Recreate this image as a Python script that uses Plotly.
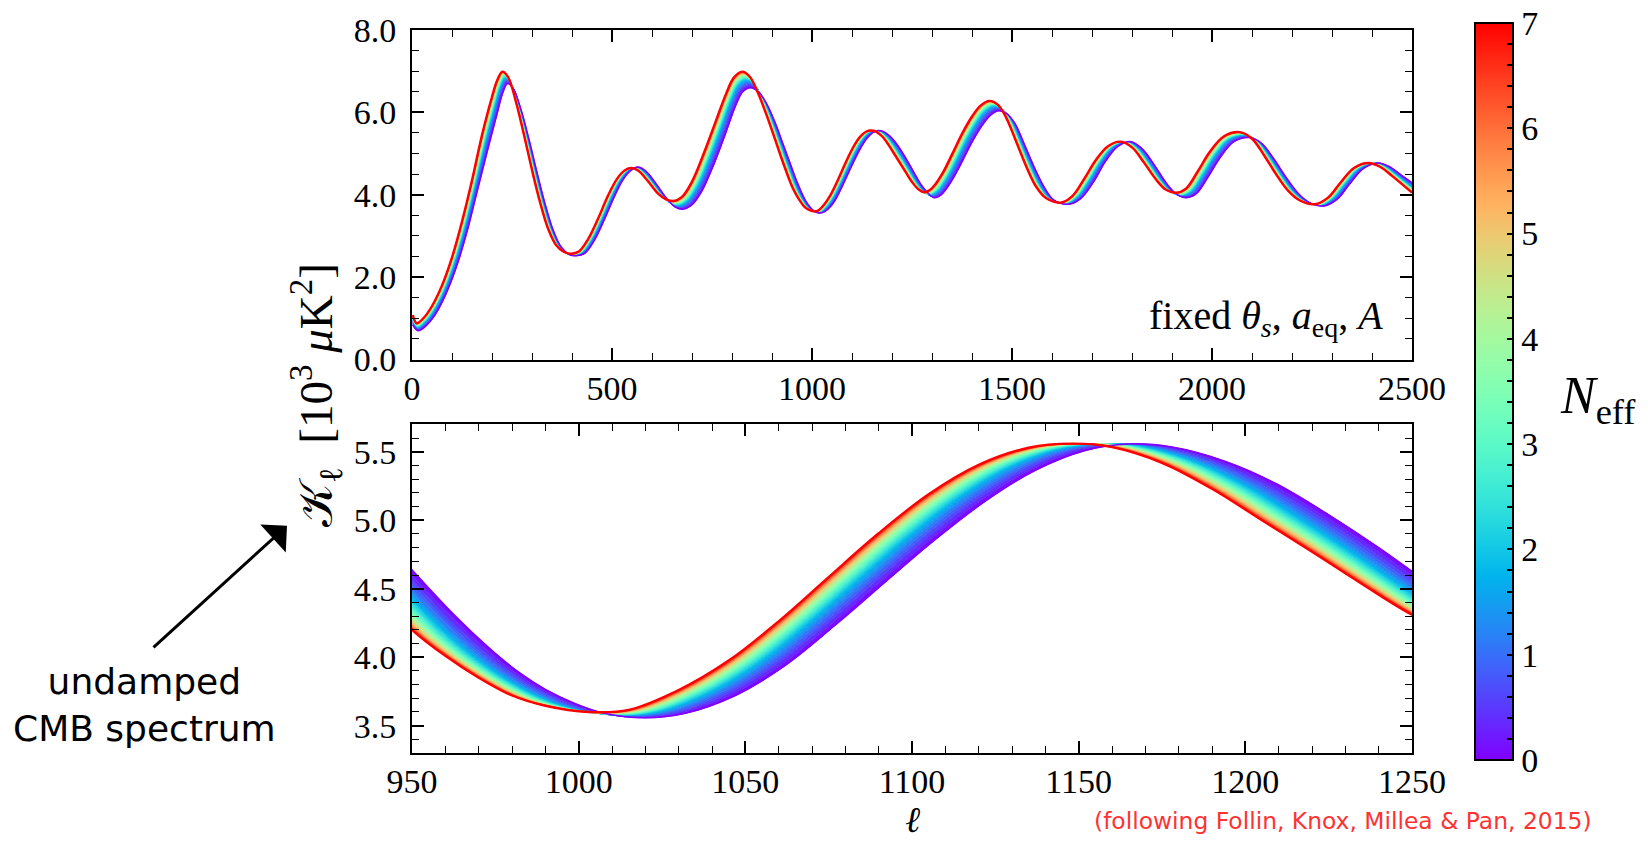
import numpy as np
import plotly.graph_objects as go

# Undamped CMB spectrum K_ell [10^3 muK^2] at fixed theta_s, a_eq, A.
# The N_eff = 0 and N_eff = 7 spectra are sampled at matching oscillation phases.
ell_neff0 = [2, 15, 35, 56, 83, 110, 136, 162, 188, 213, 226, 239, 253, 272, 292, 312, 332,
             353, 373, 393, 411, 432, 455, 481, 507, 529, 548, 565, 584, 610, 636, 657, 677,
             698, 724, 755, 785, 808, 827, 846, 865, 886, 907, 928, 948, 963, 973, 982, 990,
             999, 1008, 1020, 1032, 1047, 1062, 1077, 1092, 1107, 1122, 1137, 1152, 1165,
             1178, 1194, 1209, 1225, 1240, 1255, 1271, 1290, 1305, 1323, 1348, 1373, 1398,
             1423, 1446, 1467, 1488, 1508, 1532, 1557, 1582, 1605, 1641, 1671, 1703, 1733,
             1764, 1795, 1825, 1856, 1886, 1912, 1936, 1960, 1990, 2020, 2055, 2093, 2124,
             2154, 2184, 2214, 2244, 2281, 2314, 2344, 2379, 2415, 2444, 2474, 2500]
k_neff0 = [0.84, 0.70, 0.82, 1.06, 1.55, 2.22, 3.05, 4.05, 5.05, 5.98, 6.45, 6.70, 6.58, 6.08,
           5.36, 4.56, 3.80, 3.14, 2.73, 2.55, 2.52, 2.58, 2.88, 3.40, 3.98, 4.39, 4.60, 4.67,
           4.58, 4.27, 3.92, 3.71, 3.65, 3.74, 4.08, 4.75, 5.52, 6.14, 6.50, 6.60, 6.51, 6.22,
           5.77, 5.22, 4.69, 4.30, 4.07, 3.89, 3.765, 3.66, 3.588, 3.557, 3.59, 3.72, 3.94,
           4.235, 4.55, 4.86, 5.14, 5.365, 5.51, 5.557, 5.535, 5.43, 5.27, 5.04, 4.80, 4.54,
           4.27, 4.04, 3.93, 4.00, 4.32, 4.76, 5.24, 5.65, 5.93, 6.04, 5.96, 5.72, 5.20, 4.64,
           4.16, 3.87, 3.77, 3.90, 4.30, 4.80, 5.17, 5.29, 5.12, 4.72, 4.28, 4.01, 3.93, 4.02,
           4.43, 4.90, 5.29, 5.39, 5.25, 4.88, 4.44, 4.05, 3.81, 3.73, 3.90, 4.26, 4.64, 4.77,
           4.68, 4.47, 4.29]

ell_neff7 = [2, 12, 30, 50, 75, 100, 125, 150, 175, 200, 213, 226, 240, 260, 280, 300, 320,
             340, 360, 380, 398, 418, 440, 465, 490, 512, 530, 547, 565, 590, 615, 635, 654,
             675, 700, 730, 760, 785, 805, 826, 845, 865, 885, 905, 925, 940, 950, 960, 970,
             980, 990, 1003, 1015, 1030, 1045, 1060, 1075, 1090, 1105, 1120, 1135, 1148,
             1160, 1175, 1190, 1205, 1220, 1235, 1250, 1265, 1281, 1300, 1325, 1350, 1375,
             1400, 1422, 1444, 1465, 1485, 1510, 1535, 1560, 1585, 1622, 1650, 1680, 1710,
             1740, 1771, 1800, 1830, 1860, 1885, 1910, 1935, 1965, 1995, 2030, 2069, 2100,
             2130, 2160, 2190, 2220, 2257, 2290, 2320, 2355, 2391, 2420, 2450, 2500]
k_neff7 = [1.08, 0.88, 1.02, 1.30, 1.80, 2.48, 3.35, 4.35, 5.45, 6.38, 6.78, 6.99, 6.86, 6.25,
           5.45, 4.60, 3.82, 3.18, 2.78, 2.61, 2.57, 2.63, 2.92, 3.42, 3.98, 4.38, 4.58, 4.65,
           4.59, 4.33, 4.03, 3.89, 3.85, 3.95, 4.32, 5.02, 5.80, 6.45, 6.85, 6.99, 6.86, 6.47,
           5.97, 5.42, 4.85, 4.45, 4.20, 4.01, 3.85, 3.72, 3.645, 3.600, 3.615, 3.76, 3.975,
           4.262, 4.585, 4.905, 5.19, 5.405, 5.53, 5.56, 5.535, 5.42, 5.23, 5.00, 4.77, 4.535,
           4.31, 4.14, 4.06, 4.16, 4.50, 4.98, 5.48, 5.90, 6.17, 6.28, 6.18, 5.88, 5.30, 4.70,
           4.20, 3.92, 3.81, 3.96, 4.38, 4.85, 5.18, 5.29, 5.15, 4.78, 4.37, 4.12, 4.05, 4.15,
           4.58, 5.05, 5.42, 5.52, 5.36, 4.96, 4.50, 4.10, 3.86, 3.77, 3.93, 4.28, 4.65, 4.77,
           4.68, 4.46, 4.05]

# N_eff of each drawn spectrum and its position across the band (0 = N_eff 0, 1 = N_eff 7)
neff_levels = [0, 0.25, 0.5, 0.75, 1, 1.25, 1.5, 1.75, 2, 2.25, 2.5, 2.75, 3, 3.25, 3.5,
               3.75, 4, 4.25, 4.5, 4.75, 5, 5.25, 5.5, 5.75, 6, 6.25, 6.5, 6.75, 7]
band_position = [0.0, 0.085, 0.165, 0.235, 0.30, 0.36, 0.415, 0.465, 0.51, 0.55, 0.59, 0.625,
                 0.66, 0.69, 0.72, 0.75, 0.775, 0.80, 0.825, 0.85, 0.87, 0.89, 0.91, 0.925,
                 0.94, 0.955, 0.972, 0.986, 1.0]

NEFF_MAX = 7

SERIF = "Liberation Serif"
SANS = "DejaVu Sans"
TICK_SIZE = 34


def rainbow(t):
    """matplotlib 'rainbow' colormap."""
    t = min(max(t, 0.0), 1.0)
    r = min(1.0, abs(2 * t - 0.5))
    g = np.sin(np.pi * t)
    b = np.cos(np.pi * t / 2)
    return f"rgb({round(255 * r)},{round(255 * g)},{round(255 * b)})"


e0, k0 = np.asarray(ell_neff0, float), np.asarray(k_neff0, float)
e7, k7 = np.asarray(ell_neff7, float), np.asarray(k_neff7, float)
assert len(e0) == len(k0) == len(e7) == len(k7)

spectra = []
for n, f in zip(neff_levels, band_position):
    spectra.append((n, e0 + f * (e7 - e0), k0 + f * (k7 - k0)))

fig = go.Figure()

for xa, ya in (("x", "y"), ("x2", "y2")):
    for i, (n, ell, kk) in enumerate(spectra):
        mid = n if i == 0 else 0.5 * (n + spectra[i - 1][0])
        fig.add_trace(go.Scatter(
            x=ell, y=kk, xaxis=xa, yaxis=ya, mode="lines",
            line=dict(color=rainbow(n / NEFF_MAX), width=1, shape="spline", smoothing=1),
            fill="none" if i == 0 else "tonexty",
            fillcolor=rainbow(mid / NEFF_MAX),
            hoverinfo="skip", showlegend=False))
    # edges of the band: N_eff = 0 below, N_eff = 7 on top
    fig.add_trace(go.Scatter(
        x=e0, y=k0, xaxis=xa, yaxis=ya, mode="lines",
        line=dict(color=rainbow(0), width=1.6, shape="spline", smoothing=1),
        hoverinfo="skip", showlegend=False))
    fig.add_trace(go.Scatter(
        x=e7, y=k7, xaxis=xa, yaxis=ya, mode="lines",
        line=dict(color=rainbow(1), width=2.4, shape="spline", smoothing=1),
        hoverinfo="skip", showlegend=False))

# colour scale for N_eff
cscale = [[t, rainbow(t)] for t in np.linspace(0, 1, 29)]
fig.add_trace(go.Scatter(
    x=[-1e6], y=[-1e6], xaxis="x", yaxis="y", mode="markers",
    marker=dict(color=[0], colorscale=cscale, cmin=0, cmax=NEFF_MAX, showscale=True, size=1,
                colorbar=dict(
                    x=1.063, xanchor="left", xpad=0, y=0.5, yanchor="middle", ypad=0,
                    len=737, lenmode="pixels", thickness=38, thicknessmode="pixels",
                    outlinewidth=2, outlinecolor="black",
                    tickmode="linear", tick0=0, dtick=0.2, ticklabelstep=5, tickformat=".0f",
                    ticks="inside", ticklen=7, tickwidth=1.5, tickcolor="black",
                    ticklabeloverflow="allow",
                    tickfont=dict(family=SERIF, size=TICK_SIZE, color="black"))),
    hoverinfo="skip", showlegend=False))

axis_common = dict(
    showline=True, linewidth=2, linecolor="black", mirror="allticks",
    ticks="inside", ticklen=12, tickwidth=1.6, tickcolor="black",
    showgrid=False, zeroline=False, ticklabeloverflow="allow",
    tickfont=dict(family=SERIF, size=TICK_SIZE, color="black"),
)
minor_common = dict(ticks="inside", ticklen=7, tickwidth=1.4, tickcolor="black")

fig.update_layout(
    width=1648, height=844,
    margin=dict(l=412, r=236, t=18, b=91),
    plot_bgcolor="white", paper_bgcolor="white",
    font=dict(family=SERIF, color="black"),
    xaxis=dict(domain=[0, 1], anchor="y", range=[0, 2500], tick0=0, dtick=500,
               minor=dict(dtick=100, **minor_common), ticklabelstandoff=-2, **axis_common),
    yaxis=dict(domain=[0.5442, 1], anchor="x", range=[0, 8], tick0=0, dtick=2, tickformat=".1f",
               minor=dict(dtick=0.5, **minor_common), ticklabelstandoff=7, **axis_common),
    xaxis2=dict(domain=[0, 1], anchor="y2", range=[950, 1250], tick0=950, dtick=50,
                minor=dict(dtick=10, **minor_common), ticklabelstandoff=-3, **axis_common),
    yaxis2=dict(domain=[0, 0.4544], anchor="x2", range=[3.3, 5.7], tick0=3.5, dtick=0.5,
                tickformat=".1f", minor=dict(dtick=0.1, **minor_common),
                ticklabelstandoff=7, **axis_common),
)

annotations = [
    # shared y-axis label
    dict(text="𝒦<sub>ℓ</sub>  [10<sup>3</sup> <i>μ</i>K<sup>2</sup>]", textangle=-90,
         x=-0.096, y=0.4952, xref="paper", yref="paper", xanchor="center", yanchor="middle",
         showarrow=False, font=dict(family=SERIF, size=47, color="black")),
    # x-axis label of the zoomed panel
    dict(text="<i>ℓ</i>", x=0.5, y=-0.1235, xref="paper", yref="paper",
         xanchor="center", yanchor="bottom", showarrow=False,
         font=dict(family=SERIF, size=36, color="black")),
    # colour bar label
    dict(text="<i>N</i><sub>eff</sub>", x=1.186, y=0.4895, xref="paper", yref="paper",
         xanchor="center", yanchor="middle", showarrow=False,
         font=dict(family=SERIF, size=52, color="black")),
    # panel note
    dict(text="fixed <i>θ</i><sub><i>s</i></sub>, <i>a</i><sub>eq</sub>, <i>A</i>",
         x=0.973, y=0.602, xref="paper", yref="paper", xanchor="right", yanchor="middle",
         showarrow=False, font=dict(family=SERIF, size=40, color="black")),
    # side note with arrow
    dict(text="", x=-0.125, y=0.3143, xref="paper", yref="paper",
         ax=-135, ay=123, axref="pixel", ayref="pixel",
         showarrow=True, arrowhead=1, arrowsize=2.1, arrowwidth=3, arrowcolor="black",
         standoff=0, startstandoff=0),
    dict(text="undamped<br>CMB spectrum", x=-0.268, y=0.0667, xref="paper", yref="paper",
         xanchor="center", yanchor="middle", showarrow=False, align="center",
         font=dict(family=SANS, size=36, color="black")),
    # reference
    dict(text="(following Follin, Knox, Millea &amp; Pan, 2015)", x=0.931, y=-0.094,
         xref="paper", yref="paper", xanchor="center", yanchor="middle", showarrow=False,
         font=dict(family=SANS, size=23.4, color="rgb(255,50,50)")),
]
fig.update_layout(annotations=annotations)

fig.write_html("out.html")
